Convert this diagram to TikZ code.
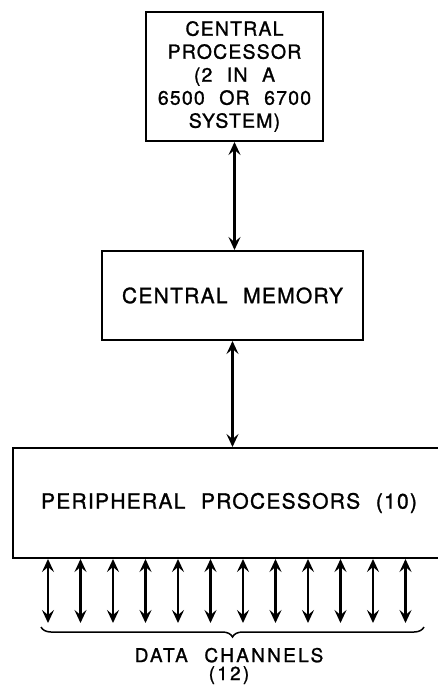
\documentclass[tikz,border=0pt]{standalone}
\usepackage{fontspec}
\setmainfont{TeX Gyre Heros}[LetterSpace=6, WordSpace=2.2, FakeBold=1.2]
\usetikzlibrary{arrows.meta, positioning, calc, decorations.pathreplacing}

\begin{document}
\begin{tikzpicture}[
    x=1pt, y=-1pt,
    node distance=106pt,
    unitbox/.style={rectangle, draw=black, line width=2pt, align=center, inner sep=0pt},
    arrow/.style={{Stealth[length=13pt,width=12pt,inset=5pt]}-{Stealth[length=13pt,width=12pt,inset=5pt]}, line width=2.2pt},
    brace/.style={decorate, decoration={brace, mirror, amplitude=10pt}, line width=1.5pt}
]
\useasboundingbox (0,0) rectangle (438,692);

\node[unitbox, minimum width=177pt, minimum height=129pt,
      font=\fontsize{19.5}{23}\selectfont] (cpu) at (234.5,76.5)
      {CENTRAL\\PROCESSOR\\(2 IN A\\6500 OR 6700\\SYSTEM)};
\node[unitbox, minimum width=261pt, minimum height=89pt, below=108pt of cpu, xshift=-2pt,
      font=\fontsize{21}{25}\selectfont] (mem) {CENTRAL MEMORY};
\node[unitbox, minimum width=432pt, minimum height=110pt, below=of mem, xshift=-3.5pt,
      font=\fontsize{21}{25}\selectfont] (ppu) {PERIPHERAL PROCESSORS (10)};

\draw[arrow] (cpu.south) -- (cpu.south |- mem.north);
\draw[arrow] (mem.south) -- (mem.south |- ppu.north);

% data channels
\foreach \i in {0,...,11} {
    \coordinate (ch\i) at ($(ppu.south west)+(36+32.5*\i,64)$);
    \draw[arrow] (ch\i |- ppu.south) -- (ch\i);
}
\coordinate (brL) at (41,627);
\coordinate (brR) at (424,627);
\draw[brace] (brL) -- (brR);

\node[align=center, font=\fontsize{19}{18}\selectfont\addfontfeature{LetterSpace=12}]
      (chlabel) at (229,666) {DATA CHANNELS\\(12)};

\end{tikzpicture}
\end{document}
